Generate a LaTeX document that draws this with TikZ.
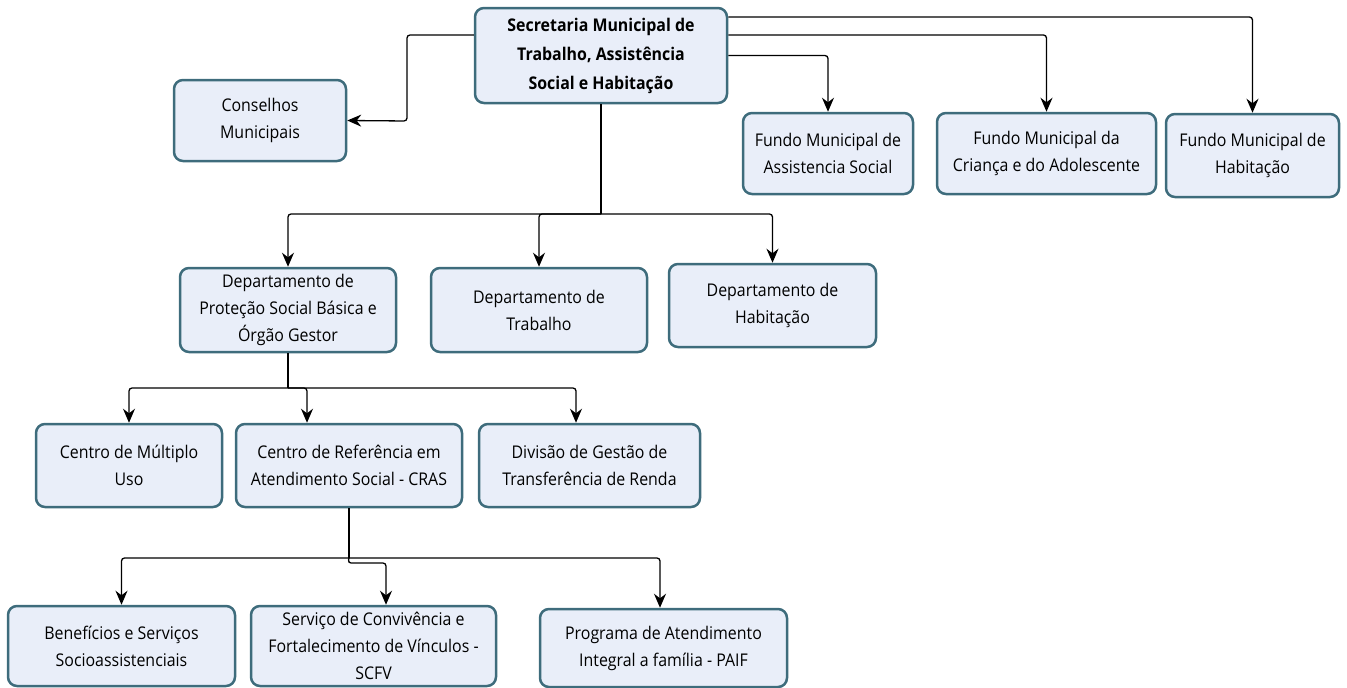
\documentclass[tikz,border=0pt]{standalone}
\usepackage{fontspec}
\setmainfont{Open Sans}[FakeStretch=0.91]
\usetikzlibrary{arrows.meta}
\definecolor{boxc}{RGB}{233,238,249}
\definecolor{bordc}{RGB}{62,108,124}
\begin{document}
\begin{tikzpicture}[x=1pt,y=-1pt,
  box/.style={draw=bordc, line width=2.5pt, fill=boxc, rounded corners=9pt, align=center,
    font=\fontsize{17.5}{27}\selectfont, inner sep=0pt},
  conn/.style={line width=1.3pt, -{Stealth[length=14pt,width=12pt]}, rounded corners=3pt},
  plain/.style={line width=1.3pt}]
\useasboundingbox (0,0) rectangle (1347,688);
\node[box, minimum width=252pt, minimum height=95pt, font=\bfseries\fontsize{17.5}{29}\selectfont] (sec) at (601,55.5) {Secretaria Municipal de\\Trabalho, Assistência\\Social e Habitação};
\node[box, minimum width=172pt, minimum height=81pt] (cons) at (260,120.5) {Conselhos\\Municipais};
\node[box, minimum width=170pt, minimum height=81pt] (fas) at (828,153.5) {Fundo Municipal de\\Assistencia Social};
\node[box, minimum width=219pt, minimum height=81pt] (fca) at (1046.5,153.5) {Fundo Municipal da\\Criança e do Adolescente};
\node[box, minimum width=173pt, minimum height=83pt] (fh) at (1252.5,155.5) {Fundo Municipal de\\Habitação};
\node[box, minimum width=216pt, minimum height=84pt] (dprot) at (288,310) {Departamento de\\Proteção Social Básica e\\Órgão Gestor};
\node[box, minimum width=216pt, minimum height=84pt] (dtrab) at (539,310) {Departamento de\\Trabalho};
\node[box, minimum width=207pt, minimum height=83pt] (dhab) at (772.5,305.5) {Departamento de\\Habitação};
\node[box, minimum width=186pt, minimum height=83pt] (mult) at (129,465.5) {Centro de Múltiplo\\Uso};
\node[box, minimum width=226pt, minimum height=83pt] (cras) at (349,465.5) {Centro de Referência em\\Atendimento Social - CRAS};
\node[box, minimum width=221pt, minimum height=83pt] (div) at (589.5,465.5) {Divisão de Gestão de\\Transferência de Renda};
\node[box, minimum width=227pt, minimum height=80pt] (ben) at (121.5,646) {Benefícios e Serviços\\Socioassistenciais};
\node[box, minimum width=245pt, minimum height=80pt] (scfv) at (373.5,646) {Serviço de Convivência e\\Fortalecimento de Vínculos -\\SCFV};
\node[box, minimum width=247pt, minimum height=78pt] (paif) at (663.5,648) {Programa de Atendimento\\Integral a família - PAIF};
% connectors from secretaria
\draw[conn] (sec.west |- 0,35) -- (407,35) -- (407,121) -- (cons.east);
\draw[conn] (sec.east |- 0,17) -| (fh.north);
\draw[conn] (sec.east |- 0,35) -| (fca.north);
\draw[conn] (sec.east) -| (fas.north);
\coordinate (j1) at (sec.south |- 0,214);
\draw[plain] (sec.south) -- (j1);
\draw[conn] (j1) -| (dprot.north);
\draw[conn] (j1) -| (dtrab.north);
\draw[conn] (j1) -| (dhab.north);
\coordinate (j2) at (dprot.south |- 0,388);
\draw[plain] (dprot.south) -- (j2);
\draw[conn] (j2) -| (mult.north);
\draw[conn] (j2) -| ([xshift=-42pt]cras.north);
\draw[conn] (j2) -| ([xshift=-13.5pt]div.north);
\coordinate (j3) at (cras.south |- 0,558);
\draw[plain] (cras.south) -- (j3);
\draw[conn] (j3) -| (ben.north);
\draw[conn] (j3) -- (348,563) -| ([xshift=12.5pt]scfv.north);
\draw[conn] (j3) -| ([xshift=-3.5pt]paif.north);
\end{tikzpicture}
\end{document}
